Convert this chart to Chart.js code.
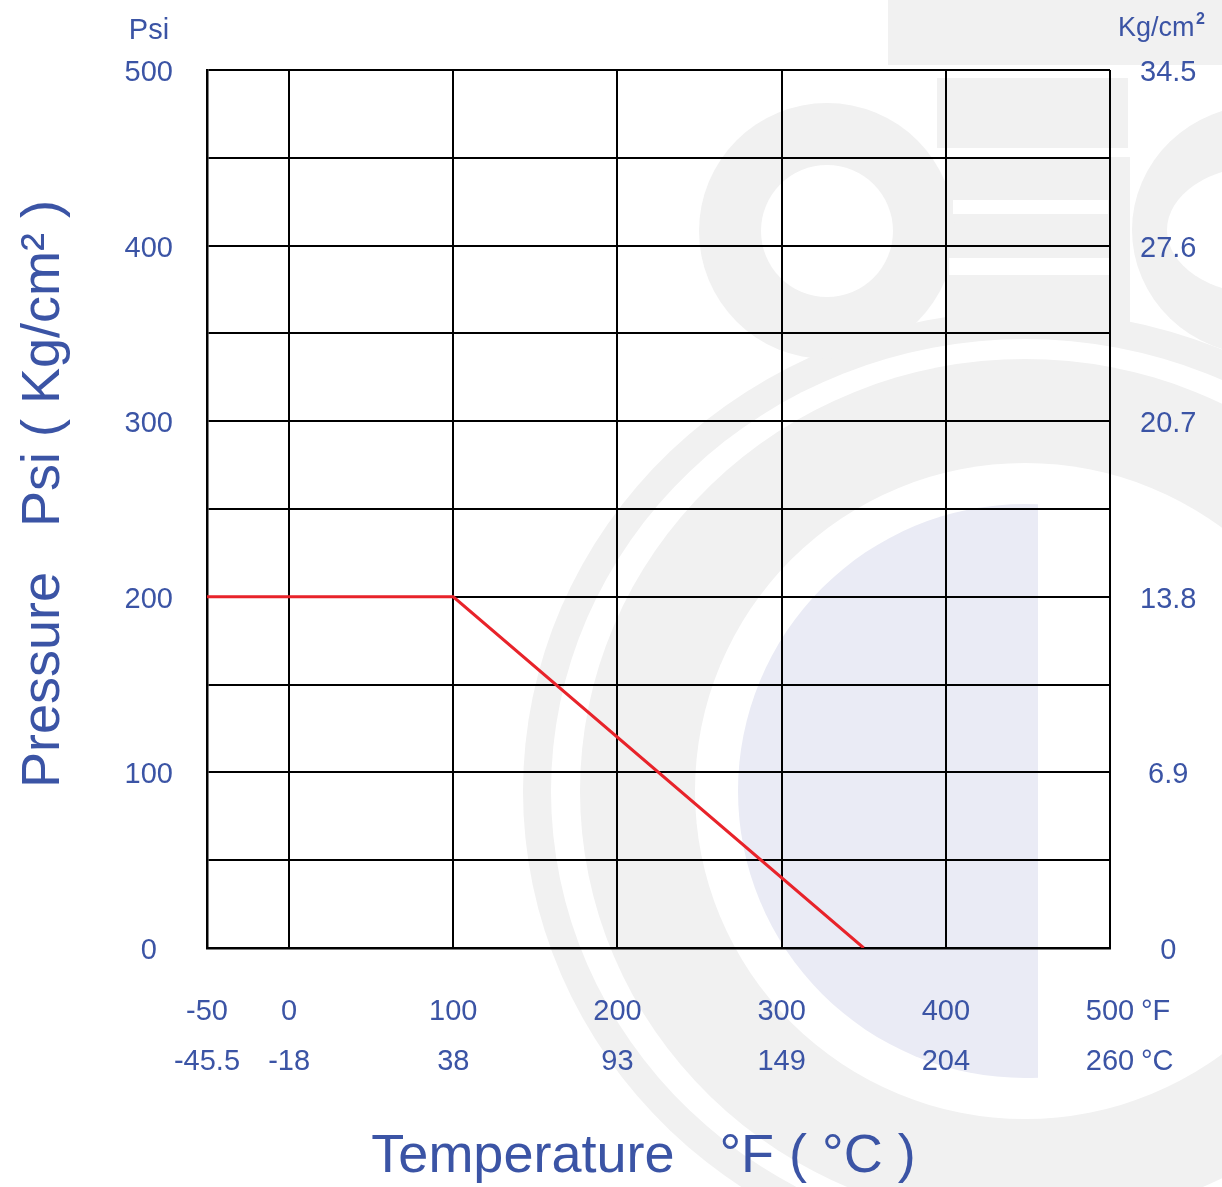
<!DOCTYPE html>
<html>
<head>
<meta charset="utf-8">
<title>Pressure / Temperature</title>
<script src="https://cdn.jsdelivr.net/npm/chart.js@4/dist/chart.umd.min.js"></script>
<style>
    html, body { margin: 0; padding: 0; background: #fff; }
    #chart { display: block; }
</style>
</head>
<body>
<canvas id="chart" width="1222" height="1187"></canvas>
<script>
// Chart data
const tempF = [-50, 0, 100, 200, 300, 400, 500];
const tempC = ['-45.5', '-18', '38', '93', '149', '204', '260'];
const psiTicks = [0, 100, 200, 300, 400, 500];
const kgLabels = ['0', '6.9', '13.8', '20.7', '27.6', '34.5'];
const lineTemp = [-50, 100, 350];
const linePsi = [200, 200, 0];

const blue = '#3b54a5';
const fontFamily = "'Liberation Sans', Arial, sans-serif";

// Light logo watermark behind the grid
const watermark = {
    id: 'watermark',
    beforeDraw(chart) {
        const ctx = chart.ctx;
        const gray = '#f1f1f1';
        ctx.save();
        ctx.fillStyle = '#fff';
        ctx.fillRect(0, 0, chart.width, chart.height);

        function ellipse(cx, cy, rx, ry, color) {
            ctx.beginPath();
            ctx.ellipse(cx, cy, rx, ry, 0, 0, Math.PI * 2);
            ctx.fillStyle = color;
            ctx.fill();
        }

        // big rings
        ellipse(1025, 791, 502, 480, gray);
        ellipse(1025, 791, 474, 452, '#fff');
        ellipse(1025, 791, 445, 432, gray);
        ellipse(1025, 791, 330, 328, '#fff');
        ctx.save();
        ctx.beginPath();
        ctx.rect(0, 0, 1038, chart.height);
        ctx.clip();
        ellipse(1025, 791, 287, 287, '#eaebf5');
        ctx.restore();

        // upper logo
        ctx.fillStyle = gray;
        ctx.fillRect(888, 0, 334, 65);
        ctx.fillRect(937, 78, 191, 70);
        ctx.fillRect(945, 157, 185, 176);
        ellipse(827, 231, 128, 128, gray);
        ellipse(827, 231, 66, 66, '#fff');
        ellipse(1262, 230, 130, 125, gray);
        ellipse(1262, 230, 95, 64, '#fff');
        ctx.fillStyle = '#fff';
        ctx.fillRect(953, 200, 155, 14);
        ctx.fillRect(949, 258, 161, 17);
        ctx.restore();
    }
};

// Unit captions above the axes and after the last x labels
const unitLabels = {
    id: 'unitLabels',
    afterDraw(chart) {
        const ctx = chart.ctx;
        const x500 = chart.scales.x.getPixelForValue(500);
        ctx.save();
        ctx.fillStyle = blue;
        ctx.textBaseline = 'middle';
        ctx.font = '29px ' + fontFamily;
        ctx.textAlign = 'center';
        ctx.fillText('Psi', 149, 31);
        ctx.textAlign = 'left';
        ctx.fillText('°F', x500 + 31, 1012);
        ctx.fillText('°C', x500 + 31, 1062);
        ctx.font = '27px ' + fontFamily;
        ctx.fillText('Kg/cm', 1118, 29);
        ctx.font = 'bold 16px ' + fontFamily;
        ctx.fillText('2', 1196, 20);
        ctx.restore();
    }
};

new Chart(document.getElementById('chart'), {
    type: 'scatter',
    data: {
        datasets: [{
            data: lineTemp.map((t, i) => ({ x: t, y: linePsi[i] })),
            showLine: true,
            borderColor: '#e8232a',
            borderWidth: 3,
            pointRadius: 0,
            tension: 0
        }]
    },
    options: {
        responsive: false,
        animation: false,
        layout: { padding: { top: 70, left: 0, right: 0, bottom: 0 } },
        plugins: {
            legend: { display: false },
            tooltip: { enabled: false }
        },
        scales: {
            x: {
                type: 'linear',
                min: -50,
                max: 500,
                afterBuildTicks: scale => {
                    scale.ticks = tempF.map(v => ({ value: v }));
                },
                afterFit: scale => { scale.height = 239; },
                grid: { color: '#000', lineWidth: 2, drawTicks: false },
                border: { display: true, color: '#000', width: 2.5 },
                ticks: {
                    padding: 39,
                    color: blue,
                    font: { family: fontFamily, size: 29, lineHeight: 50 / 29 },
                    maxRotation: 0,
                    autoSkip: false,
                    callback: v => [String(v), tempC[tempF.indexOf(v)]]
                },
                title: {
                    display: true,
                    text: 'Temperature   °F ( °C )  ',
                    color: blue,
                    font: { family: fontFamily, size: 54, lineHeight: 1.1 },
                    padding: { top: 0, bottom: 0 }
                }
            },
            y: {
                position: 'left',
                min: 0,
                max: 500,
                afterFit: scale => { scale.width = 207; },
                grid: { color: '#000', lineWidth: 2, drawTicks: false },
                border: { display: true, color: '#000', width: 2.5 },
                ticks: {
                    stepSize: 50,
                    padding: 34,
                    labelOffset: 3,
                    crossAlign: 'center',
                    color: blue,
                    font: { family: fontFamily, size: 29 },
                    callback: v => (v % 100 === 0 ? String(v) : '')
                },
                title: {
                    display: true,
                    text: '  Pressure   Psi ( Kg/cm² )',
                    color: blue,
                    font: { family: fontFamily, size: 54, lineHeight: 1.1 },
                    padding: { top: 14, bottom: 0 }
                }
            },
            y2: {
                position: 'right',
                min: 0,
                max: 500,
                afterBuildTicks: scale => {
                    scale.ticks = psiTicks.map(v => ({ value: v }));
                },
                afterFit: scale => { scale.width = 112; },
                grid: { display: false, drawTicks: false },
                border: { display: false },
                ticks: {
                    padding: 30,
                    labelOffset: 3,
                    crossAlign: 'center',
                    color: blue,
                    font: { family: fontFamily, size: 29 },
                    callback: v => kgLabels[psiTicks.indexOf(v)]
                }
            }
        }
    },
    plugins: [watermark, unitLabels]
});
</script>
</body>
</html>
